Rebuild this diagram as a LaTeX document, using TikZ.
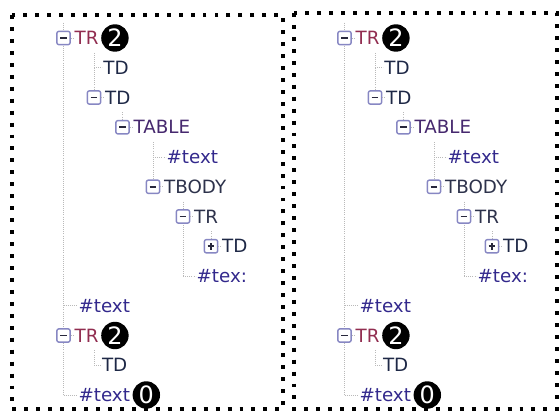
\documentclass[tikz,border=0pt]{standalone}
\usepackage{fontspec}
\setmainfont{DejaVu Sans}
\usetikzlibrary{positioning}
\definecolor{trc}{RGB}{145,45,80}
\definecolor{tdc}{RGB}{30,40,70}
\definecolor{tabc}{RGB}{70,40,110}
\definecolor{txtc}{RGB}{50,40,140}
\definecolor{tbodyc}{RGB}{45,50,75}
\definecolor{boxc}{RGB}{135,135,195}
\definecolor{boxm}{RGB}{40,40,60}

\begin{document}
\begin{tikzpicture}[x=0.025cm, y=-0.025cm,
    lbl/.style={anchor=west, inner sep=0.5pt, text height=9.5pt, text depth=0pt, font=\fontsize{13}{15}\selectfont, text=#1},
    lbl/.default=tdc,
    guide/.style={draw=gray!55, line width=0.6pt, dash pattern=on 0.6pt off 0.9pt},
    minusbox/.style={draw=boxc, fill=white, line width=1pt, rounded corners=1.5pt, minimum size=9.5pt, inner sep=0pt,
        path picture={\draw[line width=1.4pt, boxm] ([xshift=-2.4pt]path picture bounding box.center) -- ([xshift=2.4pt]path picture bounding box.center);}},
    plusbox/.style={minusbox,
        path picture={\draw[line width=1.2pt, boxm] ([xshift=-2.4pt]path picture bounding box.center) -- ([xshift=2.4pt]path picture bounding box.center)
            ([yshift=-2.4pt]path picture bounding box.center) -- ([yshift=2.4pt]path picture bounding box.center);}},
    badge/.style={circle, fill=black, text=white, inner sep=0pt, minimum size=19.5pt, font=\fontsize{17}{17}\selectfont},
    frame/.style={line width=2.8pt, dash pattern=on 2.8pt off 5.7pt}
]
\useasboundingbox (0,0) rectangle (560,412);

% dotted frames
\draw[frame] (12,15) rectangle (283,409);
\draw[frame] (294,13) rectangle (557,409);

\foreach \dx/\p in {0/l,281/r}{
    % one knob per row, at the x of its level
    \foreach \i/\lx in {0/63.5,1/94,2/94,3/122.5,4/153,5/153,6/183,7/211,8/183,9/63.5,10/63.5,11/94,12/63.5}
        \coordinate (k\i\p) at (\dx+\lx, 38+29.75*\i);

    % level lines
    \draw[guide] ([yshift=11pt]k0\p) -- (k12\p);
    \draw[guide] ([yshift=10.6pt]k1\p) -- (k2\p);
    \draw[guide] ([yshift=10.6pt]k3\p) -- (k3\p);
    \draw[guide] ([yshift=10.6pt]k4\p) -- (k5\p);
    \draw[guide] ([yshift=10.6pt]k6\p) -- (k8\p);
    \draw[guide] ([yshift=10.6pt]k7\p) -- (k7\p);
    \draw[guide] ([yshift=10.6pt]k11\p) -- (k11\p);

    % expanders
    \node[minusbox] (b0\p) at (k0\p) {};
    \node[minusbox] (b2\p) at (k2\p) {};
    \node[minusbox] (b3\p) at (k3\p) {};
    \node[minusbox] (b5\p) at (k5\p) {};
    \node[minusbox] (b6\p) at (k6\p) {};
    \node[plusbox] (b7\p) at (k7\p) {};
    \node[minusbox] (b10\p) at (k10\p) {};

    % labels
    \node[lbl=trc, right=2pt of b0\p] (t0\p) {TR};
    \node[lbl, right=6pt of k1\p] (t1\p) {TD};
    \node[lbl, right=2pt of b2\p] (t2\p) {TD};
    \node[lbl=tabc, right=2pt of b3\p] (t3\p) {TABLE};
    \node[lbl=txtc, right=9pt of k4\p] (t4\p) {\#text};
    \node[lbl=tbodyc, right=2pt of b5\p] (t5\p) {TBODY};
    \node[lbl=tbodyc, right=2pt of b6\p] (t6\p) {TR};
    \node[lbl, right=2pt of b7\p] (t7\p) {TD};
    \node[lbl=txtc, right=9pt of k8\p] (t8\p) {\#tex:};
    \node[lbl=txtc, right=10pt of k9\p] (t9\p) {\#text};
    \node[lbl=trc, right=2pt of b10\p] (t10\p) {TR};
    \node[lbl, right=5pt of k11\p] (t11\p) {TD};
    \node[lbl=txtc, right=10pt of k12\p] (t12\p) {\#text};

    % dashes to the labels
    \foreach \i in {0,2,3,5,6,7,10}
        \draw[guide] (b\i\p.east) -- (t\i\p.west);
    \foreach \i in {1,4,8,9,11,12}
        \draw[guide] (k\i\p) -- (t\i\p.west);

    % counters
    \node[badge, right=1pt of t0\p] (c0\p) {2};
    \node[badge, right=1pt of t10\p] (c10\p) {2};
    \node[badge, right=1pt of t12\p] (c12\p) {0};
}
\end{tikzpicture}
\end{document}
